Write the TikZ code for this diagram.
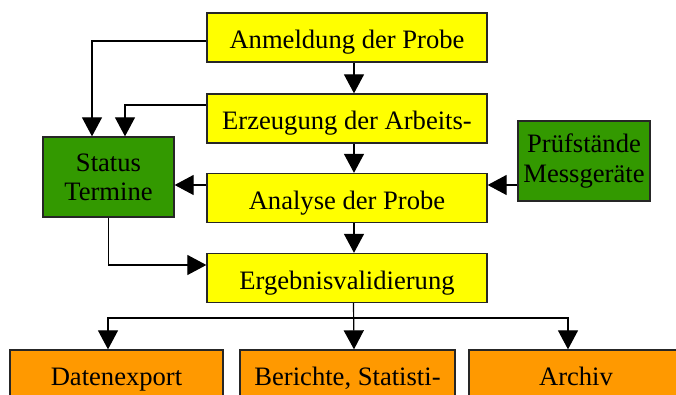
\documentclass[tikz,border=0pt]{standalone}
\usepackage{fontspec}
\setmainfont{Liberation Serif}
\usetikzlibrary{arrows.meta}

\definecolor{gelb}{HTML}{FFFF00}
\definecolor{gruen}{HTML}{339900}
\definecolor{ausgabe}{HTML}{FF9900}

\begin{document}
\begin{tikzpicture}
[x=0.5pt,y=-0.5pt,line width=0.6pt,%
  every node/.style={draw=black!85,line width=0.65pt,inner sep=0pt,align=center},%
  gelbbox/.style={fill=gelb,minimum width=140pt,minimum height=24.5pt,text height=12pt,text depth=0.5pt},%
  gruenbox/.style={fill=gruen,minimum height=40pt},%
  ausbox/.style={fill=ausgabe,minimum height=24.5pt,text height=12pt,text depth=0.5pt},%
  pfeil/.style={-{Triangle[width=10pt,length=9.5pt]}}]
\fontsize{13.3}{14.6}\selectfont
\clip (0,0) rectangle (676,395);
\node[gelbbox] (anm) at (347,37.5) {Anmeldung der Probe};
\node[gelbbox] (erz) at (347,118.5) {Erzeugung der Arbeits-};
\node[gelbbox] (ana) at (347,198) {Analyse der Probe};
\node[gelbbox] (erg) at (347,278) {Ergebnisvalidierung};
\node[gruenbox,minimum width=65.5pt] (status) at (108.5,177) {Status\\Termine};
\node[gruenbox,minimum width=66pt] (pruef) at (584,161) {Prüfstände\\Messgeräte};
\node[ausbox,minimum width=106.5pt] (export) at (116.5,374.5) {Datenexport};
\node[ausbox,minimum width=107.5pt] (bericht) at (347.5,374.5) {Berichte, Statisti-};
\node[ausbox,minimum width=107pt] (archiv) at (576,374.5) {Archiv};
\coordinate (split) at (354,318);

\draw[pfeil] ([xshift=3.5pt]anm.south) -- ([xshift=3.5pt]erz.north);
\draw[pfeil] ([xshift=3.5pt]erz.south) -- ([xshift=3.5pt]ana.north);
\draw[pfeil] ([xshift=3.5pt]ana.south) -- ([xshift=3.5pt]erg.north);
\draw[pfeil] ([yshift=-1.75pt]anm.west) -| ([xshift=-8.25pt]status.north);
\draw[pfeil] ([yshift=6.75pt]erz.west) -| ([xshift=8.25pt]status.north);
\draw[pfeil] ([yshift=6.5pt]ana.west) -- ([yshift=6.5pt]ana.west -| status.east);
\draw[pfeil] ([yshift=-12pt]pruef.west) -- ([yshift=-12pt]pruef.west -| ana.east);
\draw[pfeil] (status.south) |- ([yshift=6.5pt]erg.west);
\draw[pfeil] ([xshift=3.25pt]erg.south) -- ([xshift=3.25pt]bericht.north);
\draw[pfeil] (split) -| ([xshift=-4.25pt]export.north);
\draw[pfeil] (split) -| ([xshift=-4pt]archiv.north);
\end{tikzpicture}
\end{document}
